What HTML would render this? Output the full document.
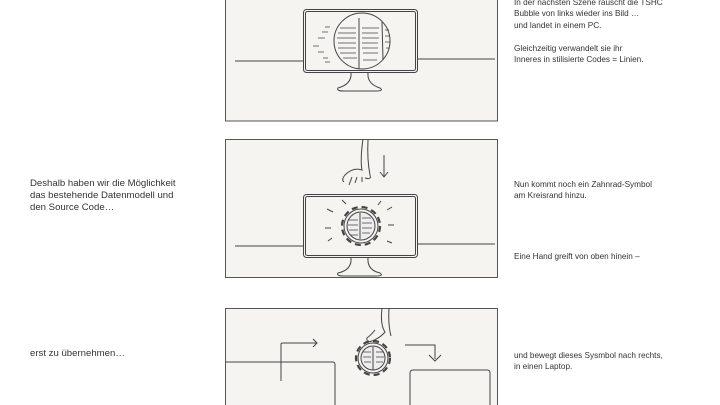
<!DOCTYPE html>
<html><head><meta charset="utf-8"><style>
body{margin:0;width:720px;height:405px;background:#fff;position:relative;overflow:hidden;font-family:"Liberation Sans",sans-serif;font-size:8.2px;color:#333;line-height:11.4px}
.t{position:absolute}
.l{font-size:9.6px;line-height:12px}
svg{position:absolute;left:0;top:0}
</style></head><body>
<svg width="720" height="405" viewBox="0 0 720 405" fill="none" stroke="#444" stroke-width="1">
<!-- frame 1 -->
<rect x="225.5" y="-5" width="272" height="126" fill="#f5f4f0" stroke="#555"/>
<line x1="235" y1="61" x2="304" y2="61"/>
<line x1="418" y1="59" x2="495" y2="59"/>
<rect x="303.5" y="9.5" width="114" height="63" rx="3" fill="#f5f4f0"/>
<rect x="305.5" y="11.5" width="110" height="59" rx="2"/>
<path d="M351 73 Q352 84 338 88 Q336 91 344 91 L376 91 Q384 91 380 88 Q367 84 368 73"/>
<circle cx="362" cy="41" r="28" fill="#f5f4f0"/>
<line x1="359" y1="18" x2="359" y2="69"/><line x1="382" y1="22" x2="383" y2="60"/>
<g stroke-width="0.8"><path d="M340 28h16M338 33h18M337 38h19M338 43h18M338 48h18M340 53h16M343 58h14M362 28h17M362 33h16M362 38h17M362 43h16M362 48h16M363 53h15M363 60h14M385 30h4M385 36h5M385 42h5M386 48h3"/>
<path d="M325 27h5M322 32h6M318 38h7M313 46h6M318 52h6M323 58h5M325 62h5"/></g>
<!-- frame 2 -->
<rect x="225.5" y="139.5" width="272" height="138" fill="#f5f4f0" stroke="#555"/>
<line x1="235" y1="246" x2="304" y2="246"/>
<line x1="418" y1="244" x2="495" y2="244"/>
<rect x="303.5" y="194.5" width="114" height="63" rx="3" fill="#f5f4f0"/>
<rect x="305.5" y="196.5" width="110" height="59" rx="2"/>
<path d="M351 258 Q352 270 338 273 Q336 276 344 276 L376 276 Q384 276 380 273 Q367 270 368 258"/>
<circle cx="361" cy="226" r="19" stroke-width="2.2" stroke-dasharray="6 4"/>
<circle cx="361" cy="226" r="17"/>
<circle cx="361" cy="226" r="14" fill="#eee"/>
<line x1="360" y1="213" x2="360" y2="239"/>
<g stroke-width="0.8"><path d="M349 220h9M348 225h10M349 230h9M350 235h8M362 218h9M362 223h10M362 228h10M362 233h8"/></g>
<path d="M327 209l6 3M342 200l4 4M381 201l-3 4M392 207l-5 3M394 225h-6M392 243l-5 -2M328 241l4-3M325 228h6"/>
<path d="M363 139 Q360 160 362 170 Q353 167 345 175 Q341 180 344 182 M352 177l-3 8M357 177l-2 6M362 177l0 5M368 140 Q367 160 370 175 Q372 180 365 178"/>
<path d="M384 155v22M380 172l4 5 4-5"/>
<!-- frame 3 -->
<rect x="225.5" y="308.5" width="272" height="110" fill="#f5f4f0" stroke="#555"/>
<path d="M226 362h107q2 0 2 3v45"/>
<path d="M281 381v-37q0-1 2-1h34M313 339l4 4-4 4"/>
<path d="M405 345h30v14M429 355l6 6 6-6"/>
<path d="M410 412V373q0-3 3-3h74q3 0 3 3v40"/>
<circle cx="373" cy="358" r="17" stroke-width="2.2" stroke-dasharray="6 4"/>
<circle cx="373" cy="358" r="15"/>
<circle cx="373" cy="358" r="12" fill="#eee"/>
<line x1="373" y1="347" x2="373" y2="370"/>
<g stroke-width="0.8"><path d="M363 352h8M363 357h8M364 362h7M376 352h8M376 357h8M376 362h7"/></g>
<path d="M382 308 Q380 325 385 332 Q380 338 372 341 Q366 343 367 338 Q372 334 375 330 M389 308 Q388 325 391 336"/>
</svg>
<div class="t" style="left:514px;top:-3px">In der nächsten Szene rauscht die TSHC<br>Bubble von links wieder ins Bild …<br>und landet in einem PC.<br><br>Gleichzeitig verwandelt sie ihr<br>Inneres in stilisierte Codes = Linien.</div>
<div class="t l" style="left:30px;top:178px">Deshalb haben wir die Möglichkeit<br>das bestehende Datenmodell und<br>den Source Code…</div>
<div class="t" style="left:514px;top:179px">Nun kommt noch ein Zahnrad-Symbol<br>am Kreisrand hinzu.</div>
<div class="t" style="left:514px;top:251px">Eine Hand greift von oben hinein –</div>
<div class="t l" style="left:30px;top:348px">erst zu übernehmen…</div>
<div class="t" style="left:514px;top:350px">und bewegt dieses Sysmbol nach rechts,<br>in einen Laptop.</div>
</body></html>
